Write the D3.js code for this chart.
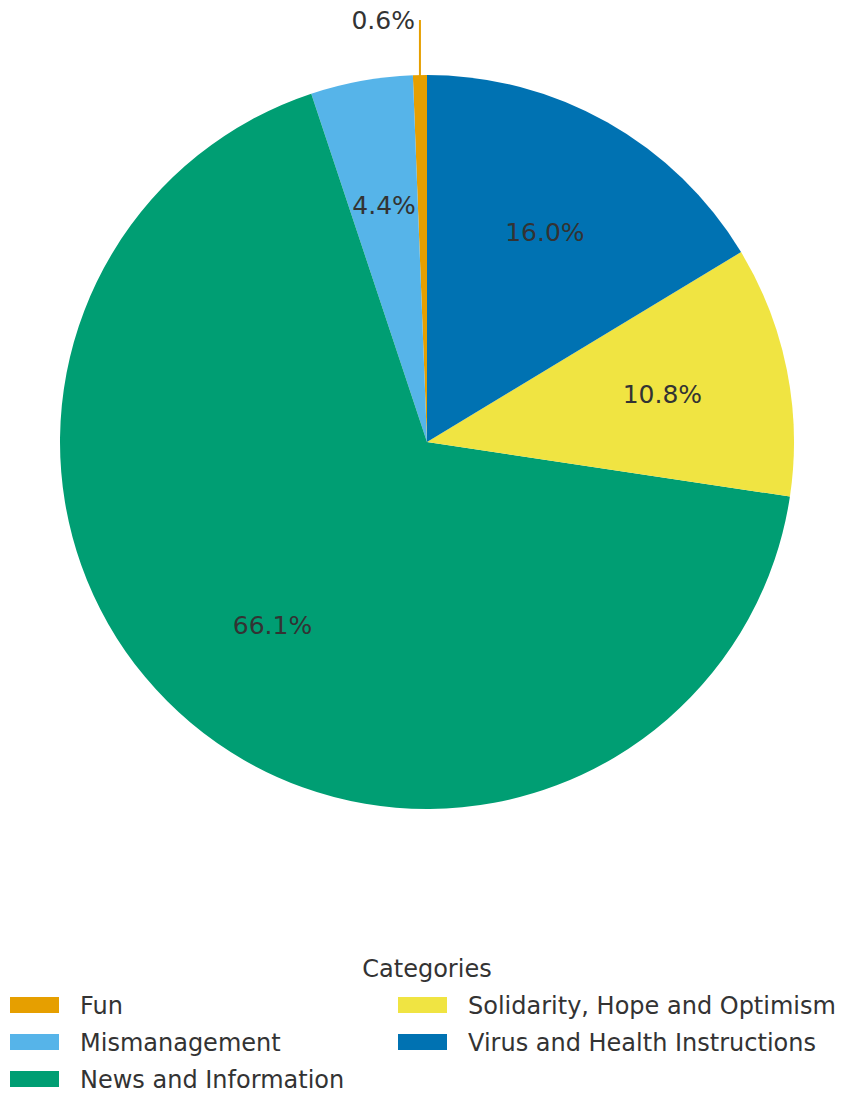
<!DOCTYPE html>
<meta charset="utf-8">
<script src="https://d3js.org/d3.v7.min.js"></script>
<style>
body{margin: 0; background: #fff;}
svg text {font-family: "DejaVu Sans", sans-serif; fill: #333;}
.pct {font-size: 25px; text-anchor: middle; dominant-baseline: central;}
.legend-text {font-size: 24px;}
</style>

<div id="vis"></div>

<script>

// Data (percent labels as printed on the chart)
const categories = ["Fun", "Mismanagement", "News and Information", "Solidarity, Hope and Optimism", "Virus and Health Instructions"];
const values = [0.6, 4.4, 66.1, 10.8, 16.0];
const colors = ["#E69F00", "#56B4E9", "#009E73", "#F0E442", "#0072B2"];

const w = 851, h = 1096;
const cx = 427, cy = 442, radius = 367;

let svg = d3.select("#vis")
            .append("svg")
            .attr("width", w)
            .attr("height", h);

let g = svg.append("g")
    .attr("transform", "translate(" + cx + "," + cy + ")");

const color = d3.scaleOrdinal().domain(categories).range(colors);

const data = categories.map((c, i) => ({cat: c, value: values[i]}));

// counterclockwise from 12 o'clock, like matplotlib startangle=90
const pie = d3.pie()
    .sort(null)
    .value(d => d.value)
    .startAngle(0)
    .endAngle(-2 * Math.PI);

const arcs = pie(data);

const arc = d3.arc().innerRadius(0).outerRadius(radius);
const labelArc = d3.arc().innerRadius(radius * 0.654).outerRadius(radius * 0.654);

g.selectAll(".slice")
  .data(arcs)
  .enter().append("path")
    .attr("class", "slice")
    .attr("d", arc)
    .attr("fill", d => color(d.data.cat));

// small slices get their label outside with a leader line
const small = d => d.data.value < 1;

g.selectAll(".pct")
  .data(arcs.filter(d => !small(d)))
  .enter().append("text")
    .attr("class", "pct")
    .attr("x", d => labelArc.centroid(d)[0])
    .attr("y", d => labelArc.centroid(d)[1])
    .text(d => d.data.value.toFixed(1) + "%");

const outer = arcs.filter(small);
const lineTop = 20 - cy;

outer.forEach(d => {
  const a = (d.startAngle + d.endAngle) / 2;
  const x0 = radius * Math.sin(a), y0 = -radius * Math.cos(a);
  g.append("line")
    .attr("x1", x0).attr("y1", y0 + 2)
    .attr("x2", x0).attr("y2", lineTop)
    .attr("stroke", color(d.data.cat))
    .attr("stroke-width", 2);
  g.append("text")
    .attr("x", x0 - 5)
    .attr("y", lineTop + 9)
    .style("font-size", "25px")
    .attr("text-anchor", "end")
    .text(d.data.value.toFixed(1) + "%");
});

// Legend, two columns filled column first
const legend = svg.append("g");
legend.append("text")
    .attr("class", "legend-text")
    .attr("x", 427).attr("y", 977)
    .attr("text-anchor", "middle")
    .text("Categories");

const rows = 3;
const colX = [10, 398];
const rowY = d3.scaleLinear().domain([0, 1]).range([997, 1034]);

const items = legend.selectAll(".item")
  .data(categories)
  .enter().append("g")
    .attr("class", "item")
    .attr("transform", (d, i) => "translate(" + colX[Math.floor(i / rows)] + "," + rowY(i % rows) + ")");

items.append("rect")
    .attr("width", 49)
    .attr("height", 16)
    .attr("fill", d => color(d));

items.append("text")
    .attr("class", "legend-text")
    .attr("x", 70)
    .attr("y", 17)
    .text(d => d);

</script>
